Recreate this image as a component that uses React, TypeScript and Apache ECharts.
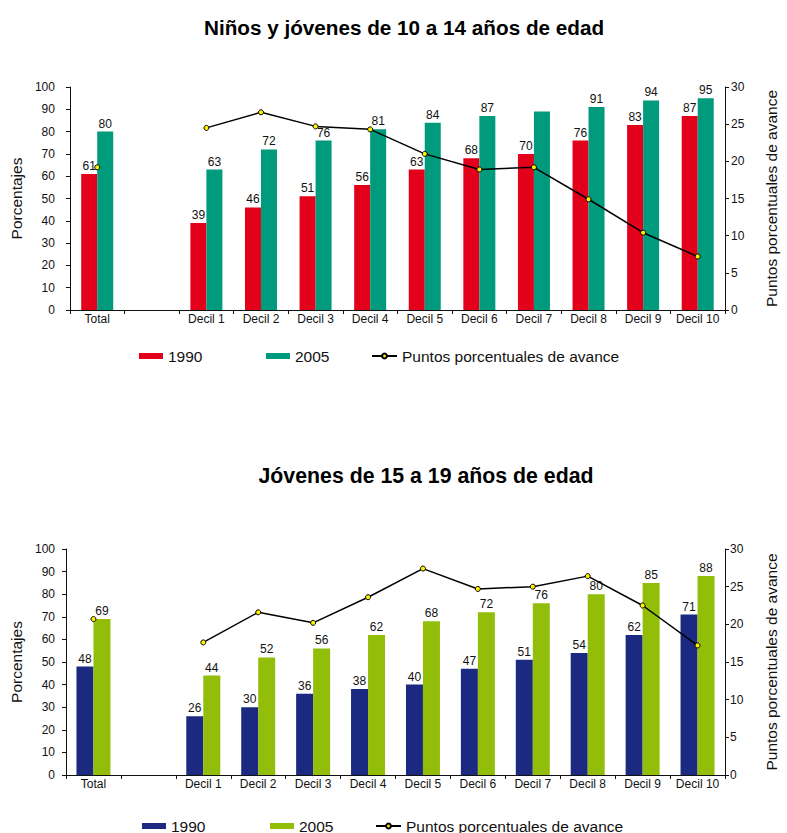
import React, { useEffect, useRef } from "react";
import * as echarts from "echarts";

const FONT = "'Liberation Sans', Arial, Helvetica, sans-serif";

// Categories shared by both panels (an empty slot separates the total from the deciles)
const categories = [
  "Total",
  "",
  "Decil 1",
  "Decil 2",
  "Decil 3",
  "Decil 4",
  "Decil 5",
  "Decil 6",
  "Decil 7",
  "Decil 8",
  "Decil 9",
  "Decil 10",
];

const leftTicks = [0, 100, 10];
const rightTicks = [0, 30, 5];

// Niños y jóvenes de 10 a 14 años
const kids1990 = [61, null, 39, 46, 51, 56, 63, 68, 70, 76, 83, 87];
const kids2005 = [80, null, 63, 72, 76, 81, 84, 87, 89, 91, 94, 95];
const kidsAvance = [19.2, null, 24.5, 26.6, 24.7, 24.3, 21.0, 18.9, 19.2, 14.9, 10.4, 7.2];
const kids2005Unlabeled = ["Decil 7"];

// Jóvenes de 15 a 19 años
const youth1990 = [48, null, 26, 30, 36, 38, 40, 47, 51, 54, 62, 71];
const youth2005 = [69, null, 44, 52, 56, 62, 68, 72, 76, 80, 85, 88];
const youthAvance = [20.7, null, 17.6, 21.6, 20.2, 23.6, 27.4, 24.7, 25.0, 26.4, 22.5, 17.2];

const seriesNames = ["1990", "2005", "Puntos porcentuales de avance"];

interface PanelSpec {
  title: string;
  titleX: number;
  titleTop: number;
  titleSize: number;
  colors: [string, string];
  a: (number | null)[];
  b: (number | null)[];
  line: (number | null)[];
  bUnlabeled: string[];
  grid: { left: number; right: number; top: number; height: number };
  barWidth: number;
  legendTop: number;
  legendLefts: [number, number, number];
  leftLabelMargin: number;
  rightLabelMargin: number;
}

function buildOption(p: PanelSpec): echarts.EChartsCoreOption {
  const axisLine = { show: true, lineStyle: { color: "#111", width: 1 } };
  const tickStyle = { show: true, length: 4, lineStyle: { color: "#111" } };
  const labelText = { fontFamily: FONT, fontSize: 12, color: "#111" };
  const nameText = { fontFamily: FONT, fontSize: 15.5, color: "#111" };

  const barLabel = {
    show: true,
    position: "top" as const,
    distance: 2,
    ...labelText,
    formatter: (v: { value: number | null }) => (v.value == null ? "" : String(v.value)),
  };

  const legendBase = {
    orient: "horizontal" as const,
    top: p.legendTop,
    itemGap: 0,
    padding: 0,
    textStyle: { fontFamily: FONT, fontSize: 15.5, color: "#111", lineHeight: 16 },
    selectedMode: false as const,
  };

  return {
    animation: false,
    backgroundColor: "#fff",
    title: {
      text: p.title,
      left: p.titleX,
      top: p.titleTop,
      textAlign: "center",
      textStyle: { fontFamily: FONT, fontSize: p.titleSize, fontWeight: "bold", color: "#000" },
    },
    legend: [
      {
        ...legendBase,
        left: p.legendLefts[0],
        data: [{ name: seriesNames[0], icon: "rect" }],
        itemWidth: 24,
        itemHeight: 6,
      },
      {
        ...legendBase,
        left: p.legendLefts[1],
        data: [{ name: seriesNames[1], icon: "rect" }],
        itemWidth: 24,
        itemHeight: 6,
      },
      {
        ...legendBase,
        left: p.legendLefts[2],
        data: [seriesNames[2]],
        itemWidth: 25,
        itemHeight: 6,
      },
    ],
    grid: { ...p.grid, containLabel: false },
    xAxis: {
      type: "category",
      data: categories,
      boundaryGap: true,
      axisLine,
      axisTick: { ...tickStyle, alignWithLabel: false },
      axisLabel: { ...labelText, margin: 3, interval: 0 },
      splitLine: { show: false },
    },
    yAxis: [
      {
        type: "value",
        min: leftTicks[0],
        max: leftTicks[1],
        interval: leftTicks[2],
        position: "left",
        name: "Porcentajes",
        nameLocation: "middle",
        nameGap: 42,
        nameTextStyle: nameText,
        axisLine,
        axisTick: tickStyle,
        axisLabel: { ...labelText, margin: p.leftLabelMargin },
        splitLine: { show: false },
      },
      {
        type: "value",
        min: rightTicks[0],
        max: rightTicks[1],
        interval: rightTicks[2],
        position: "right",
        name: "Puntos porcentuales de avance",
        nameLocation: "middle",
        nameGap: 38,
        nameTextStyle: nameText,
        axisLine,
        axisTick: tickStyle,
        axisLabel: { ...labelText, margin: p.rightLabelMargin },
        splitLine: { show: false },
      },
    ],
    series: [
      {
        name: seriesNames[0],
        type: "bar",
        yAxisIndex: 0,
        barWidth: p.barWidth,
        barGap: "0%",
        itemStyle: { color: p.colors[0] },
        label: barLabel,
        data: p.a,
      },
      {
        name: seriesNames[1],
        type: "bar",
        yAxisIndex: 0,
        barWidth: p.barWidth,
        barGap: "0%",
        itemStyle: { color: p.colors[1] },
        label: barLabel,
        data: p.b.map((v, i) =>
          p.bUnlabeled.includes(categories[i]) ? { value: v, label: { show: false } } : v
        ),
      },
      {
        name: seriesNames[2],
        type: "line",
        yAxisIndex: 1,
        connectNulls: false,
        symbol: "circle",
        symbolSize: 5,
        showAllSymbol: true,
        lineStyle: { color: "#000", width: 1.5 },
        itemStyle: { color: "#FFF200", borderColor: "#000", borderWidth: 1 },
        z: 5,
        data: p.line,
      },
    ],
  };
}

const topPanel: PanelSpec = {
  title: "Niños y jóvenes de 10 a 14 años de edad",
  titleX: 399,
  titleTop: 12,
  titleSize: 20.7,
  colors: ["#E2001A", "#009A7C"],
  a: kids1990,
  b: kids2005,
  line: kidsAvance,
  bUnlabeled: kids2005Unlabeled,
  grid: { left: 67, right: 53, top: 87, height: 223 },
  barWidth: 16,
  legendTop: 348,
  legendLefts: [139, 266, 371],
  leftLabelMargin: 15,
  rightLabelMargin: 6,
};

const bottomPanel: PanelSpec = {
  title: "Jóvenes de 15 a 19 años de edad",
  titleX: 421,
  titleTop: 50,
  titleSize: 21.3,
  colors: ["#1B2A80", "#92BE0A"],
  a: youth1990,
  b: youth2005,
  line: youthAvance,
  bUnlabeled: [],
  grid: { left: 58, right: 51, top: 139, height: 226 },
  barWidth: 17,
  legendTop: 408,
  legendLefts: [142, 270, 375],
  leftLabelMargin: 11,
  rightLabelMargin: 5,
};

function Panel({ spec, top, height }: { spec: PanelSpec; top: number; height: number }) {
  const ref = useRef<HTMLDivElement>(null);
  useEffect(() => {
    if (!ref.current) return;
    const chart = echarts.init(ref.current, undefined, { renderer: "svg" });
    chart.setOption(buildOption(spec));
    return () => chart.dispose();
  }, [spec]);
  return (
    <div
      ref={ref}
      style={{ position: "absolute", left: 0, top, width: 787, height }}
    />
  );
}

export default function App() {
  return (
    <div
      style={{
        position: "absolute",
        left: 0,
        top: 0,
        width: 787,
        height: 833,
        background: "#fff",
        overflow: "hidden",
      }}
    >
      <Panel spec={topPanel} top={0} height={410} />
      <Panel spec={bottomPanel} top={410} height={423} />
    </div>
  );
}
